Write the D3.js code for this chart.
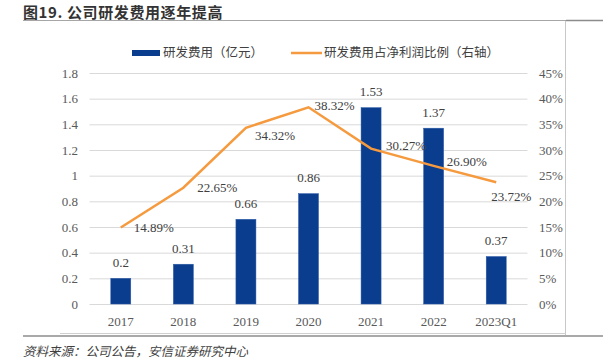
<!DOCTYPE html>
<meta charset="utf-8">
<style>
  body { margin: 0; background: #fff; }
  .tick text { font-family: "Liberation Serif", "DejaVu Serif", serif; font-size: 13px; fill: #595959; }
  .grid line { stroke: #d9d9d9; }
  .cjk { font-family: "Noto Sans CJK SC", sans-serif; }
</style>
<title>公司研发费用逐年提高</title>
<script src="https://d3js.org/d3.v7.min.js"></script>
<body>
<div id="chart"></div>
<script>
    var categories = ["2017", "2018", "2019", "2020", "2021", "2022", "2023Q1"];
    var rdCost = [0.2, 0.31, 0.66, 0.86, 1.53, 1.37, 0.37];
    var rdRatio = [14.89, 22.65, 34.32, 38.32, 30.27, 26.90, 23.72];
    var leftTicks = [0, 0.2, 0.4, 0.6, 0.8, 1, 1.2, 1.4, 1.6, 1.8];
    var rightTicks = [0, 5, 10, 15, 20, 25, 30, 35, 40, 45];
    // where each % label sits relative to its point (dx, dy)
    var ratioLabelOffset = [[13, 0], [14, 0], [9, 8], [6, -2], [15, -3], [13, -4], [-5, 14]];

    var width = 611, height = 361;
    var svg = d3.select("#chart").append("svg")
        .attr("width", width)
        .attr("height", height);

    var x = d3.scaleBand().domain(categories).range([89.5, 527.5]),
        y = d3.scaleLinear().domain([0, 1.8]).range([304, 73]),
        y2 = d3.scaleLinear().domain([0, 45]).range([304, 73]);

    var barW = 20;
    var cx = (i) => x(categories[i]) + x.bandwidth() / 2;

    // title + frame
    svg.append("text")
        .attr("class", "cjk")
        .attr("x", 23).attr("y", 18)
        .attr("font-size", "15px")
        .attr("letter-spacing", "0.6px")
        .attr("font-weight", "bold")
        .attr("fill", "#333")
        .text("图19. 公司研发费用逐年提高");
    svg.append("line").attr("x1", 23).attr("x2", 566).attr("y1", 20.5).attr("y2", 20.5)
        .attr("stroke", "#a6a6a6");
    svg.append("line").attr("x1", 566).attr("x2", 603).attr("y1", 20.5).attr("y2", 20.5)
        .attr("stroke", "#8c8c8c").attr("stroke-width", 1.5);
    svg.append("line").attr("x1", 565.5).attr("x2", 565.5).attr("y1", 21).attr("y2", 335)
        .attr("stroke", "#c8c8c8");
    svg.append("line").attr("x1", 60).attr("x2", 566).attr("y1", 333.5).attr("y2", 333.5)
        .attr("stroke", "#d0d0d0");
    svg.append("line").attr("x1", 23).attr("x2", 603).attr("y1", 336).attr("y2", 336)
        .attr("stroke", "#8c8c8c").attr("stroke-width", 1.5);

    // gridlines
    svg.append("g")
        .attr("class", "grid")
        .attr("transform", "translate(89.5,0)")
        .call(d3.axisLeft(y).tickValues(leftTicks).tickSize(-438).tickFormat(""))
        .call(g => g.select(".domain").remove());

    // left axis
    svg.append("g")
        .attr("transform", "translate(80,0)")
        .call(d3.axisLeft(y).tickValues(leftTicks).tickSize(0).tickPadding(2).tickFormat(d3.format("")))
        .call(g => g.select(".domain").remove());

    // right axis
    svg.append("g")
        .attr("transform", "translate(537,0)")
        .call(d3.axisRight(y2).tickValues(rightTicks).tickSize(0).tickPadding(2).tickFormat(d => d + "%"))
        .call(g => g.select(".domain").remove());

    // x axis
    svg.append("g")
        .attr("transform", "translate(0,304)")
        .call(d3.axisBottom(x).tickSize(0).tickPadding(13))
        .call(g => g.select(".domain").remove());

    // bars
    svg.selectAll(".bar")
        .data(rdCost)
        .enter().append("rect")
        .attr("class", "bar")
        .attr("x", (d, i) => cx(i) - barW / 2)
        .attr("width", barW)
        .attr("y", d => y(d))
        .attr("height", d => y(0) - y(d))
        .attr("fill", "#0b3d8f")
        .attr("stroke", "#2a5aa8")
        .attr("stroke-width", 0.5);

    svg.selectAll(".barlabel")
        .data(rdCost)
        .enter().append("text")
        .attr("x", (d, i) => cx(i))
        .attr("y", d => y(d) - 16)
        .attr("dy", "0.35em")
        .attr("text-anchor", "middle")
        .style("font", "13px 'Liberation Serif', serif")
        .attr("fill", "#404040")
        .text(d => d);

    // ratio line
    var line = d3.line()
        .x((d, i) => cx(i))
        .y(d => y2(d));

    svg.append("path")
        .datum(rdRatio)
        .attr("d", line)
        .attr("fill", "none")
        .attr("stroke", "#f59a3e")
        .attr("stroke-width", 2.5);

    svg.selectAll(".linelabel")
        .data(rdRatio)
        .enter().append("text")
        .attr("x", (d, i) => cx(i) + ratioLabelOffset[i][0])
        .attr("y", (d, i) => y2(d) + ratioLabelOffset[i][1])
        .attr("dy", "0.35em")
        .style("font", "13px 'Liberation Serif', serif")
        .attr("fill", "#404040")
        .text(d => d.toFixed(2) + "%");

    // legend
    svg.append("rect").attr("x", 132).attr("y", 50).attr("width", 28).attr("height", 6)
        .attr("fill", "#0b3d8f");
    svg.append("text").attr("class", "cjk")
        .attr("x", 163).attr("y", 53).attr("dy", "0.35em")
        .attr("font-size", "12.5px").attr("fill", "#404040")
        .text("研发费用（亿元）");
    svg.append("line").attr("x1", 291).attr("x2", 322).attr("y1", 53).attr("y2", 53)
        .attr("stroke", "#f59a3e").attr("stroke-width", 2.5);
    svg.append("text").attr("class", "cjk")
        .attr("x", 324).attr("y", 53).attr("dy", "0.35em")
        .attr("font-size", "12.5px").attr("fill", "#404040")
        .text("研发费用占净利润比例（右轴）");

    // source
    svg.append("text").attr("class", "cjk")
        .attr("x", 23).attr("y", 352).attr("dy", "0.35em")
        .attr("font-size", "12.5px").attr("font-style", "italic").attr("fill", "#404040")
        .text("资料来源：公司公告，安信证券研究中心");
</script>
</body>
